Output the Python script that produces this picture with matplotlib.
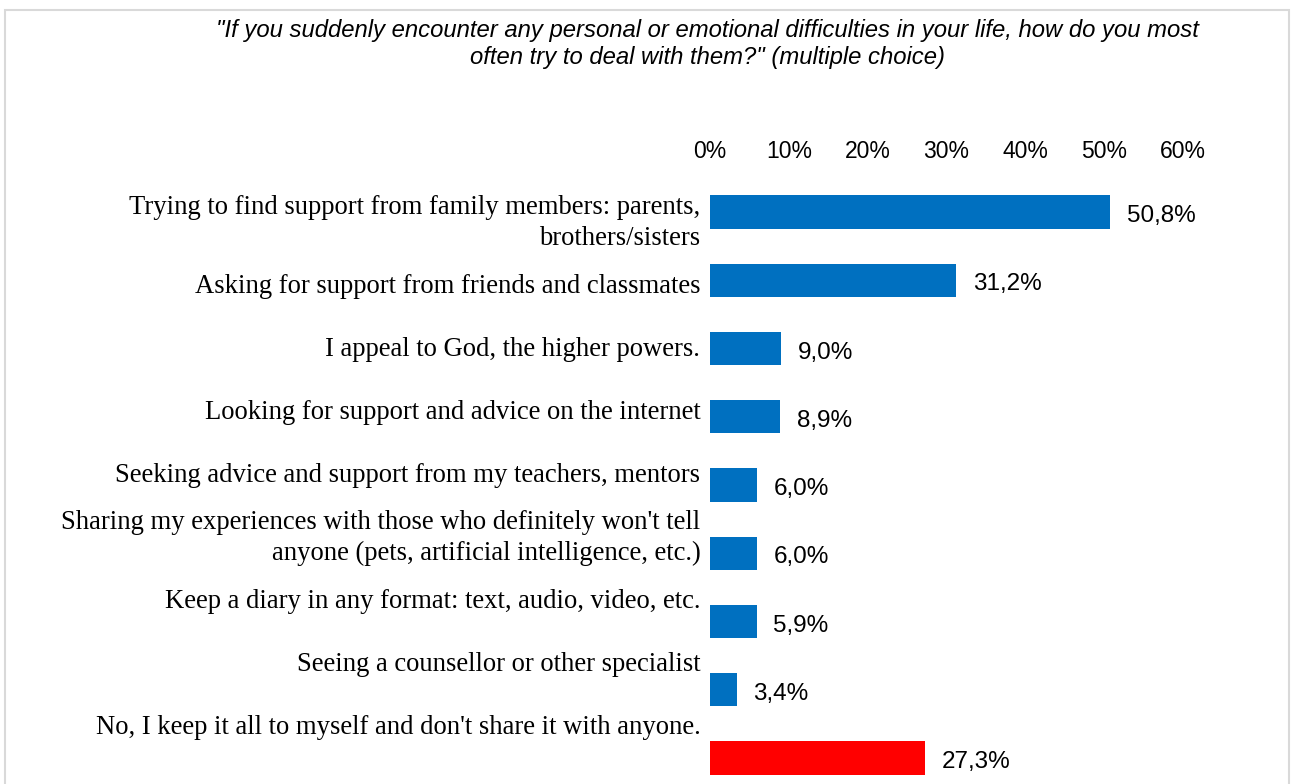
import matplotlib.pyplot as plt
from matplotlib.patches import Rectangle

categories = [
    'Trying to find support from family members: parents,\nbrothers/sisters',
    'Asking for support from friends and classmates',
    'I appeal to God, the higher powers.',
    'Looking for support and advice on the internet',
    'Seeking advice and support from my teachers, mentors',
    "Sharing my experiences with those who definitely won't tell\nanyone (pets, artificial intelligence, etc.)",
    'Keep a diary in any format: text, audio, video, etc.',
    'Seeing a counsellor or other specialist',
    "No, I keep it all to myself and don't share it with anyone.",
]
values = [50.8, 31.2, 9.0, 8.9, 6.0, 6.0, 5.9, 3.4, 27.3]
value_labels = ['50,8%', '31,2%', '9,0%', '8,9%', '6,0%', '6,0%', '5,9%', '3,4%', '27,3%']
colors = ['#0070C0'] * 8 + ['#FF0000']
ticks = [0, 10, 20, 30, 40, 50, 60]
tick_labels = ['0%', '10%', '20%', '30%', '40%', '50%', '60%']
title = ('"If you suddenly encounter any personal or emotional difficulties in your life, how do you most\n'
         'often try to deal with them?" (multiple choice)')

fig = plt.figure(figsize=(12.94, 7.84), dpi=100)
fig.patches.append(Rectangle((5 / 1294, -0.05), 1284 / 1294, 1.05 - 10 / 784,
                             transform=fig.transFigure, fill=False,
                             edgecolor='#D9D9D9', linewidth=1.5))

ax = fig.add_axes([710 / 1294, 1 - 792 / 784, 473 / 1294, 614 / 784])
y = list(range(len(values)))
ax.barh(y, values, height=0.49, color=colors)
ax.set_xlim(0, 60)
ax.set_ylim(8.5, -0.5)
ax.xaxis.tick_top()
ax.set_xticks(ticks)
ax.set_xticklabels(tick_labels, fontsize=16.5, family='Liberation Sans')
ax.tick_params(axis='x', length=0, pad=11)
ax.set_yticks([])
for s in ax.spines.values():
    s.set_visible(False)

# category labels sit a bit above the bars and drift upward
for i, lab in enumerate(categories):
    ax.annotate(lab, xy=(0, 0.924 * i + 0.16), xytext=(-7, 0), textcoords='offset points',
                ha='right', va='center', fontsize=19.2, family='Liberation Serif',
                linespacing=1.28, annotation_clip=False)

for i, (v, t) in enumerate(zip(values, value_labels)):
    ax.annotate(t, xy=(v, i), xytext=(12, -3), textcoords='offset points',
                ha='left', va='center', fontsize=17.5, family='Liberation Sans',
                annotation_clip=False)

fig.text(707 / 1294, 1 - 44 / 784, title, ha='center', va='center', fontsize=17.2,
         style='italic', family='Liberation Sans', linespacing=1.27)

fig.savefig('out.png', dpi=100)
